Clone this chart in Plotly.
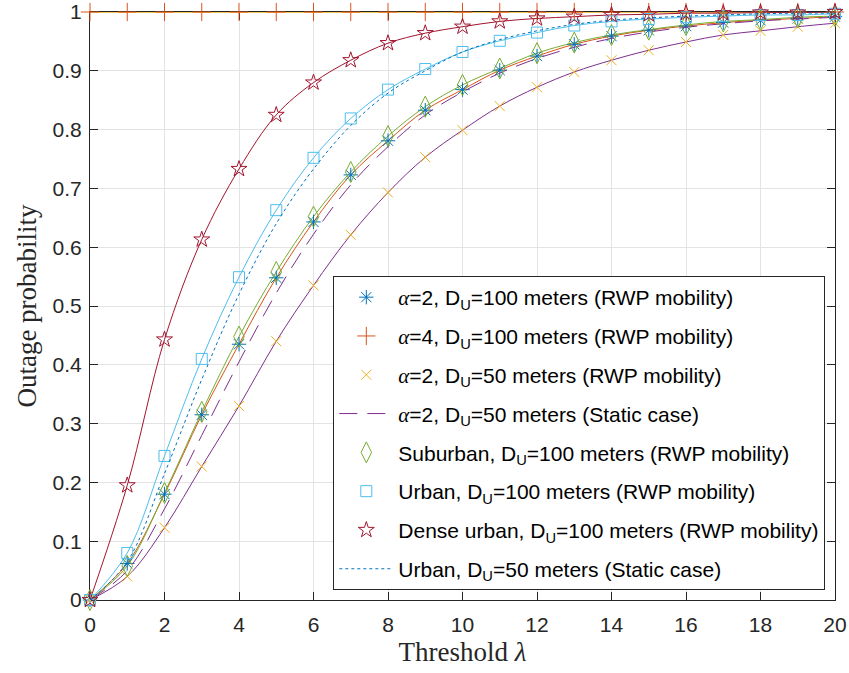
import plotly.graph_objects as go

x = list(range(0, 21))

a2_d100 = [0, 0.062, 0.18, 0.315, 0.435, 0.548, 0.643, 0.723, 0.781, 0.833, 0.868,
           0.901, 0.925, 0.945, 0.959, 0.969, 0.976, 0.982, 0.986, 0.989, 0.992]
a4_d100 = [1.0] * 21
a2_d50 = [0, 0.04, 0.123, 0.227, 0.33, 0.44, 0.535, 0.621, 0.693, 0.753, 0.799,
          0.84, 0.872, 0.898, 0.918, 0.935, 0.949, 0.961, 0.968, 0.975, 0.981]
a2_d50_static = [0, 0.05, 0.155, 0.28, 0.405, 0.522, 0.622, 0.706, 0.771, 0.825, 0.864,
                 0.896, 0.921, 0.94, 0.955, 0.966, 0.974, 0.98, 0.985, 0.988, 0.991]
suburban = [0, 0.058, 0.182, 0.32, 0.448, 0.558, 0.652, 0.728, 0.789, 0.839, 0.876,
            0.904, 0.93, 0.948, 0.961, 0.97, 0.978, 0.984, 0.987, 0.991, 0.993]
urban = [0, 0.08, 0.245, 0.41, 0.549, 0.663, 0.752, 0.819, 0.868, 0.903, 0.932,
         0.951, 0.965, 0.977, 0.984, 0.988, 0.991, 0.993, 0.995, 0.995, 0.997]
dense_urban = [0, 0.195, 0.443, 0.613, 0.733, 0.825, 0.88, 0.918, 0.947, 0.964, 0.975,
               0.984, 0.989, 0.992, 0.995, 0.996, 0.998, 0.998, 0.999, 0.999, 1.0]
urban_static = [0, 0.065, 0.215, 0.375, 0.52, 0.64, 0.733, 0.807, 0.862, 0.9, 0.932,
                0.953, 0.968, 0.979, 0.986, 0.99, 0.993, 0.995, 0.997, 0.998, 0.998]

x_ticks = list(range(0, 21, 2))
y_ticks = [round(i * 0.1, 1) for i in range(11)]
y_tick_text = ["0", "0.1", "0.2", "0.3", "0.4", "0.5", "0.6", "0.7", "0.8", "0.9", "1"]

BLUE = "#0072BD"
ORANGE = "#D95319"
YELLOW = "#EDB120"
PURPLE = "#7E2F8E"
GREEN = "#77AC30"
LBLUE = "#4DBEEE"
RED = "#A2142F"

ALPHA = '<span style="font-family:Liberation Serif"><i>α</i></span>'

fig = go.Figure()

# analytical curves (no legend)
for ys, col, w in [(a2_d100, ORANGE, 1), (a4_d100, YELLOW, 1.5), (a2_d50, PURPLE, 1),
                   (suburban, GREEN, 1), (urban, LBLUE, 1), (dense_urban, RED, 1)]:
    fig.add_trace(go.Scatter(x=x, y=ys, mode="lines", line=dict(color=col, width=w, shape="spline"),
                             showlegend=False, hoverinfo="skip", cliponaxis=False))

entries = [
    (a2_d100, f"{ALPHA}=2, D<sub>U</sub>=100 meters (RWP mobility)", "markers",
     dict(symbol="asterisk-open", size=12, color=BLUE, line=dict(color=BLUE, width=1)), None),
    (a4_d100, f"{ALPHA}=4, D<sub>U</sub>=100 meters (RWP mobility)", "markers",
     dict(symbol="cross-thin-open", size=13, color=ORANGE, line=dict(color=ORANGE, width=1)), None),
    (a2_d50, f"{ALPHA}=2, D<sub>U</sub>=50 meters (RWP mobility)", "markers",
     dict(symbol="x-thin-open", size=10, color=YELLOW, line=dict(color=YELLOW, width=1)), None),
    (a2_d50_static, f"{ALPHA}=2, D<sub>U</sub>=50 meters (Static case)", "lines",
     None, dict(color=PURPLE, width=1, dash="18px,10px", shape="spline")),
    (suburban, "Suburban, D<sub>U</sub>=100 meters (RWP mobility)", "markers",
     dict(symbol="diamond-tall-open", size=15, color=GREEN, line=dict(color=GREEN, width=1)), None),
    (urban, "Urban, D<sub>U</sub>=100 meters (RWP mobility)", "markers",
     dict(symbol="square-open", size=11, color=LBLUE, line=dict(color=LBLUE, width=1)), None),
    (dense_urban, "Dense urban, D<sub>U</sub>=100 meters (RWP mobility)", "markers",
     dict(symbol="star-open", size=12, color=RED, line=dict(color=RED, width=1)), None),
    (urban_static, "Urban, D<sub>U</sub>=50 meters (Static case)", "lines",
     None, dict(color=BLUE, width=1, dash="dot", shape="spline")),
]

for i, (ys, name, mode, mk, ln) in enumerate(entries):
    kw = dict(x=x, y=ys, mode=mode, name=name, legendgroup=f"g{i}", cliponaxis=False)
    if mk is not None:
        kw["marker"] = mk
    if ln is not None:
        kw["line"] = ln
    fig.add_trace(go.Scatter(**kw))

axis_common = dict(
    showgrid=True, gridcolor="#E3E3E3", gridwidth=1,
    showline=True, linecolor="#262626", linewidth=1, mirror="ticks",
    ticks="inside", ticklen=8, tickcolor="#262626",
    tickfont=dict(family="Liberation Sans, Arial", size=21, color="#262626"),
    zeroline=False, automargin=False, layer="below traces",
)

fig.update_layout(
    template="none",
    width=849, height=673,
    margin=dict(l=90, r=14, t=12, b=73),
    paper_bgcolor="white", plot_bgcolor="white",
    xaxis=dict(range=[0, 20], tickvals=x_ticks, ticktext=[str(v) for v in x_ticks],
               ticklabelstandoff=6,
               title=dict(text="Threshold <i>λ</i>", font=dict(family="Liberation Serif", size=27, color="#262626"),
                          standoff=6),
               **axis_common),
    yaxis=dict(range=[0, 1], tickvals=y_ticks, ticktext=y_tick_text,
               ticklabelstandoff=3,
               title=dict(text="Outage probability", font=dict(family="Liberation Serif", size=27, color="#262626"),
                          standoff=8),
               **axis_common),
    legend=dict(x=0.3266, y=0.551, xanchor="left", yanchor="top",
                bgcolor="white", bordercolor="#262626", borderwidth=1,
                font=dict(family="Liberation Sans, Arial", size=21, color="#000000"),
                tracegroupgap=8.5, traceorder="grouped", itemwidth=54),
    showlegend=True,
)

fig.write_html("out.html")
